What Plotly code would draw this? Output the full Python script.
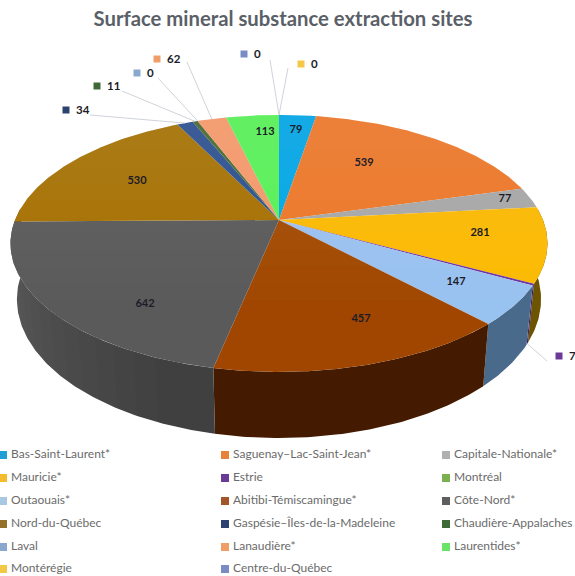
import numpy as np
import plotly.graph_objects as go

TITLE = "Surface mineral substance extraction sites"
regions = ["Bas-Saint-Laurent*", "Saguenay–Lac-Saint-Jean*", "Capitale-Nationale*", "Mauricie*", "Estrie",
           "Montréal", "Outaouais*", "Abitibi-Témiscamingue*", "Côte-Nord*", "Nord-du-Québec",
           "Gaspésie–Îles-de-la-Madeleine", "Chaudière-Appalaches", "Laval", "Lanaudière*", "Laurentides*",
           "Montérégie", "Centre-du-Québec"]
values = [79, 539, 77, 281, 7, 0, 147, 457, 642, 530, 34, 11, 0, 62, 113, 0, 0]
colors = ["#00a4e6", "#ec7624", "#a6a6a6", "#fbbb00", "#7030a0", "#70ad47", "#98c2f0", "#a04600", "#5a5a5a",
          "#a47000", "#264c8c", "#43682b", "#7ea6d0", "#f4946a", "#58f058", "#f2c53c", "#7f8fc0"]
wall_colors = ["#006a96", "#8a4a1c", "#6a6a6a", "#6c5400", "#45205f", "#44662c", "#4a6a8c", "#441a00", "#404040",
               "#5e4200", "#17305a", "#2b431c", "#4f6c88", "#965e40", "#38943a", "#98802a", "#505c80"]
legend_colors = ["#1f9fd6", "#e8803a", "#b0b0b0", "#f2bc2c", "#6a3a96", "#7ab04e", "#a9c8e2", "#a4562a", "#5e5e5e",
                 "#94702a", "#2c4270", "#3f6a38", "#8aa8cc", "#ee9e66", "#66e566", "#f2c844", "#7a8cc4"]

# projection of the pie (perspective tilted disc, in page pixels)
CX, CY, A, B, K, DEPTH, SHRINK = 279, 220, 264, 124.2, 0.1825, 54, 0.976

# page-pixel placement of text
inside_pos = {"Bas-Saint-Laurent*": (296, 130), "Saguenay–Lac-Saint-Jean*": (364, 163), "Capitale-Nationale*": (505, 199),
              "Mauricie*": (480, 233), "Outaouais*": (456, 282), "Abitibi-Témiscamingue*": (361, 319),
              "Côte-Nord*": (145, 304), "Nord-du-Québec": (137, 181), "Laurentides*": (265, 132)}
outside_pos = {"Estrie": (559, 356), "Gaspésie–Îles-de-la-Madeleine": (66, 110), "Chaudière-Appalaches": (97, 86),
               "Laval": (137, 73), "Lanaudière*": (157, 59), "Montérégie": (301, 64), "Centre-du-Québec": (244, 54)}
elbows = {"Estrie": (547, 361), "Gaspésie–Îles-de-la-Madeleine": (90, 115), "Chaudière-Appalaches": (122, 91),
          "Laval": (158, 78), "Lanaudière*": (187, 62), "Montérégie": (288, 68), "Centre-du-Québec": (270, 60)}
legend_cols = [3, 225, 446]
legend_rows = [455, 478, 501, 524, 547, 569]


def top(theta):
    X, Y = np.sin(theta), np.cos(theta)
    w = 1 + K * Y
    return CX + A * X / w, CY - B * Y / w


def bottom(theta):
    X, Y = np.sin(theta), np.cos(theta)
    w = 1 + K * Y
    return CX + SHRINK * A * X / w, CY - B * Y / w + DEPTH / w


def arc(t0, t1):
    return np.linspace(t0, t1, max(2, int(abs(t1 - t0) * 90)))


total = sum(values)
edges = np.concatenate([[0], np.cumsum(values)]) / total * 2 * np.pi
fig = go.Figure()


def poly(x, y, color, opacity=1.0, name=""):
    fig.add_trace(go.Scatter(x=x, y=y, mode="lines", line=dict(width=0), fill="toself", fillcolor=color,
                             opacity=opacity, hoverinfo="skip", name=name, showlegend=False))


# side wall
SIL0, SIL1 = np.radians(85), np.radians(275)
for i, r in enumerate(regions):
    t0, t1 = max(edges[i], SIL0), min(edges[i + 1], SIL1)
    if t1 <= t0:
        continue
    t = arc(t0, t1)
    tx, ty = top(t)
    bx, by = bottom(t)
    poly(np.r_[tx, bx[::-1]], np.r_[ty, by[::-1]], wall_colors[i], name=r)

# the Côte-Nord wall lightens towards the left
for k in range(1, 17):
    t = arc(SIL1 - np.radians(4.5 * k), edges[9])
    tx, ty = top(t)
    bx, by = bottom(t)
    poly(np.r_[tx, bx[::-1]], np.r_[ty, by[::-1]], "#ffffff", 0.006)

# top face
for i, r in enumerate(regions):
    if values[i] == 0:
        continue
    tx, ty = top(arc(edges[i], edges[i + 1]))
    poly(np.r_[CX, tx], np.r_[CY, ty], colors[i], name=r)

# soft vertical sheen on the top face
fx, fy = top(arc(0, 2 * np.pi))
for yk in np.linspace(150, 300, 10):
    poly(fx, np.minimum(fy, yk), "#ffffff", 0.007)

# leader lines
mids = (edges[:-1] + edges[1:]) / 2
for i, r in enumerate(regions):
    if r in elbows:
        tip = bottom(mids[i]) if r == "Estrie" else top(mids[i])
        ox, oy = elbows[r]
        fig.add_trace(go.Scatter(x=[ox, tip[0]], y=[oy, tip[1]], mode="lines", line=dict(color="#c3c8d0", width=0.8),
                                 hoverinfo="skip", showlegend=False))

# labels inside the pie
ins = [r for r in regions if r in inside_pos]
fig.add_trace(go.Scatter(x=[inside_pos[r][0] for r in ins], y=[inside_pos[r][1] for r in ins],
                         text=[str(values[regions.index(r)]) for r in ins], mode="text", textposition="middle center",
                         textfont=dict(family="Lato", size=11, color="#1c1c28", weight="bold"),
                         hoverinfo="skip", showlegend=False))

# labels outside the pie, with their swatches
outs = [r for r in regions if r in outside_pos]
fig.add_trace(go.Scatter(x=[outside_pos[r][0] for r in outs], y=[outside_pos[r][1] for r in outs],
                         mode="markers",
                         marker=dict(symbol="square", size=7, color=[legend_colors[regions.index(r)] for r in outs]),
                         hoverinfo="skip", showlegend=False))
fig.add_trace(go.Scatter(x=[outside_pos[r][0] + 10 for r in outs], y=[outside_pos[r][1] + 1 for r in outs],
                         text=[str(values[regions.index(r)]) for r in outs], mode="text", textposition="middle right",
                         textfont=dict(family="Lato", size=11.5, color="#1c1c28", weight="bold"),
                         hoverinfo="skip", showlegend=False))

# legend grid
order = [(c, r) for r in range(6) for c in range(3)]
lx = [legend_cols[order[i][0]] for i in range(len(regions))]
ly = [legend_rows[order[i][1]] for i in range(len(regions))]
fig.add_trace(go.Scatter(x=lx, y=ly, mode="markers", marker=dict(symbol="square", size=8, color=legend_colors),
                         hoverinfo="skip", showlegend=False, cliponaxis=False))
fig.add_trace(go.Scatter(x=[v + 8 for v in lx], y=ly, text=regions, mode="text", textposition="middle right",
                         textfont=dict(family="Lato", size=12, color="#6b6b6b"),
                         hoverinfo="text", showlegend=False, cliponaxis=False))

fig.update_layout(
    width=575, height=576, margin=dict(l=0, r=0, t=0, b=0), autosize=False,
    paper_bgcolor="white", plot_bgcolor="white", showlegend=False,
    xaxis=dict(range=[0, 575], visible=False, fixedrange=True),
    yaxis=dict(range=[576, 0], visible=False, fixedrange=True),
    title=dict(text=TITLE, x=283 / 575, xanchor="center", y=1 - 19 / 576, yanchor="middle",
               font=dict(family="Lato", size=20.3, color="#5a6068", weight="bold")),
)
fig.write_html("out.html", config={"displayModeBar": False},
               post_script="document.body.style.margin='0';document.documentElement.style.overflow='hidden';")
